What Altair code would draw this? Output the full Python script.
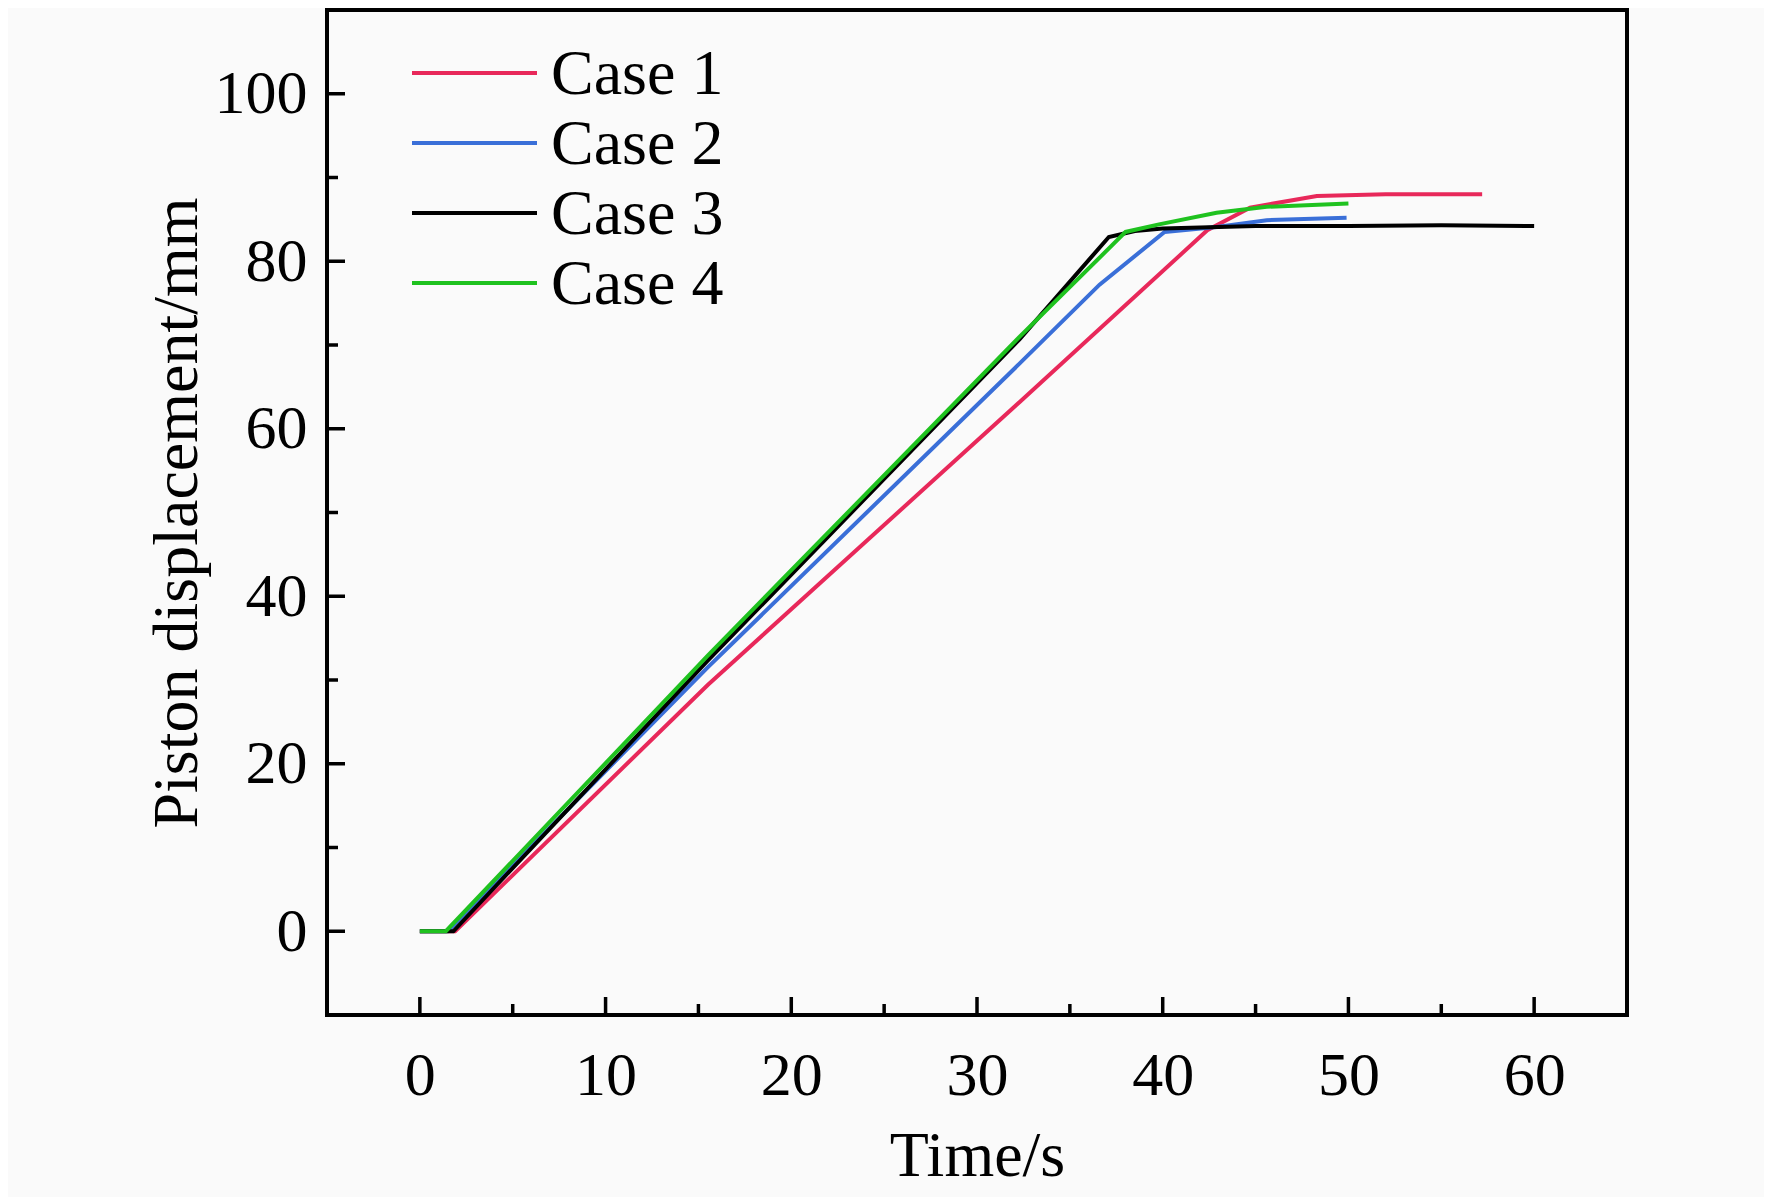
import altair as alt
import pandas as pd

# ---- data ----
case1_t = [0, 1.9, 15.5, 32.3, 42.4, 44.7, 48.3, 52.0, 57.2]
case1_d = [0, 0, 29.4, 63.2, 83.7, 86.4, 87.8, 88.0, 88.0]

case2_t = [0, 1.5, 15.5, 32.3, 36.6, 40.1, 42.9, 45.6, 49.9]
case2_d = [0, 0, 31.5, 67.8, 77.2, 83.5, 84.1, 84.9, 85.2]

case3_t = [0, 1.8, 15.5, 32.3, 37.1, 38.5, 40.0, 45.0, 50.0, 55.0, 60.0]
case3_d = [0, 0, 32.3, 70.7, 82.9, 83.6, 83.9, 84.2, 84.2, 84.3, 84.2]

case4_t = [0, 1.4, 15.5, 32.3, 38.0, 39.8, 42.9, 45.6, 50.0]
case4_d = [0, 0, 32.9, 71.0, 83.5, 84.4, 85.8, 86.5, 86.9]

names = ["Case 1", "Case 2", "Case 3", "Case 4"]
colors = ["#E8285A", "#3A6FD8", "#000000", "#1FC21F"]

x_major = [0, 10, 20, 30, 40, 50, 60]
x_minor = [5, 15, 25, 35, 45, 55]
y_major = [0, 20, 40, 60, 80, 100]
y_minor = [10, 30, 50, 70, 90]

series = [(case1_t, case1_d), (case2_t, case2_d), (case3_t, case3_d), (case4_t, case4_d)]
rows = []
for name, (ts, ds) in zip(names, series):
    for i, (t, d) in enumerate(zip(ts, ds)):
        rows.append({"t": t, "d": d, "case": name, "i": i})
df = pd.DataFrame(rows)
legend_df = pd.DataFrame({"case": names})

W, H = 1300, 1005
FONT = "Liberation Serif"
LW = 4

xscale = alt.Scale(domain=[-5, 65], nice=False, zero=False)
yscale = alt.Scale(domain=[-10, 110], nice=False, zero=False)
cscale = alt.Scale(domain=names, range=colors)

x_axis = alt.Axis(values=x_major, grid=False, domain=False, ticks=False, tickSize=0,
                  labelFont=FONT, labelFontSize=62, labelColor="black", labelPadding=30,
                  labelFlush=False,
                  title="Time/s", titleFont=FONT, titleFontSize=64, titleFontWeight="normal",
                  titleColor="black", titleBaseline="alphabetic", titleY=160)
y_axis = alt.Axis(values=y_major, grid=False, domain=False, ticks=False, tickSize=0,
                  labelFont=FONT, labelFontSize=62, labelColor="black", labelPadding=20,
                  labelFlush=False,
                  title="Piston displacement/mm", titleFont=FONT, titleFontSize=64,
                  titleFontWeight="normal", titleColor="black", titleBaseline="alphabetic",
                  titleX=-131, titleY=H / 2, titleAngle=270)

lines = alt.Chart(df).mark_line(strokeWidth=LW).encode(
    x=alt.X("t:Q", scale=xscale, axis=x_axis),
    y=alt.Y("d:Q", scale=yscale, axis=y_axis),
    color=alt.Color("case:N", scale=cscale, legend=None),
    order="i:Q",
)

def xticks(vals, length):
    return alt.Chart(pd.DataFrame({"t": vals})).mark_rule(color="black", strokeWidth=3.5).encode(
        x=alt.X("t:Q", scale=xscale, axis=x_axis),
        y=alt.value(H), y2=alt.value(H - length))

def yticks(vals, length):
    return alt.Chart(pd.DataFrame({"d": vals})).mark_rule(color="black", strokeWidth=3.5).encode(
        y=alt.Y("d:Q", scale=yscale, axis=y_axis),
        x=alt.value(0), x2=alt.value(length))

main = alt.layer(
    lines,
    xticks(x_major, 18), xticks(x_minor, 11),
    yticks(y_major, 18), yticks(y_minor, 11),
)

# legend rows placed through a point scale over the case names
leg_y = alt.Y("case:N", scale=alt.Scale(type="point", domain=names, range=[63, 273], padding=0),
              axis=None)
leg_lines = alt.Chart(legend_df).mark_rule(strokeWidth=LW).encode(
    y=leg_y, x=alt.value(85), x2=alt.value(210),
    color=alt.Color("case:N", scale=cscale, legend=None),
)
leg_text = alt.Chart(legend_df).mark_text(
    align="left", baseline="middle", font=FONT, fontSize=64, color="black", dy=2
).encode(y=leg_y, x=alt.value(224), text="case:N")
legend = alt.layer(leg_lines, leg_text)

chart = alt.layer(main, legend).resolve_scale(y="independent").properties(
    width=W, height=H,
    autosize=alt.AutoSizeParams(type="none"),
    padding={"left": 319, "top": 2, "right": 137, "bottom": 182},
    background="#FAFAFA",
).configure_view(stroke="black", strokeWidth=4)

chart.save("out.html", embed_options={"renderer": "svg", "actions": False})
